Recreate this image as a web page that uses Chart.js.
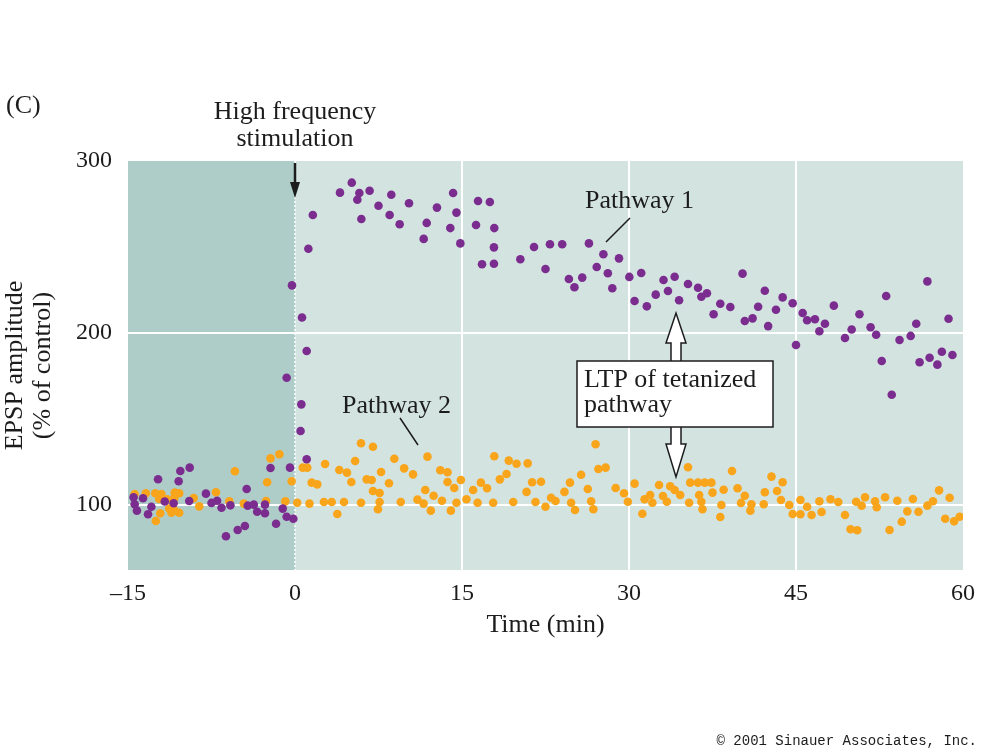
<!DOCTYPE html>
<html>
<head>
<meta charset="utf-8">
<script src="https://cdn.jsdelivr.net/npm/chart.js@4/dist/chart.umd.min.js"></script>
<style>
  html, body { margin: 0; padding: 0; background: #fff; }
  #wrap { width: 981px; height: 752px; }
</style>
</head>
<body>
<div id="wrap"><canvas id="chart" width="981" height="752"></canvas></div>
<script>
// pathway 1 (tetanized), time in min / EPSP amplitude in % of control
const p1Time = [-14.5, -14.4, -14.2, -13.65, -13.2, -12.9, -12.3, -11.7, -10.9, -10.45, -10.3, -9.5, -9.46, -8.0, -7.5, -7.0, -6.6, -6.2, -5.8, -5.15,
  -4.5, -4.34, -4.25, -3.7, -3.4, -2.7, -2.7, -2.2, -1.7, -1.1, -0.75, -0.75, -0.45, -0.27, -0.15, 0.5, 0.57, 0.63, 1.05, 1.05,
  1.2, 1.6, 4.04, 5.1, 5.6, 5.78, 5.96, 6.7, 7.5, 8.5, 8.65, 9.4, 10.24, 11.56, 11.83, 12.75, 13.95, 14.2, 14.5, 14.85,
  16.26, 16.44, 16.8, 17.5, 17.87, 17.87, 17.9, 20.24, 21.47, 22.5, 22.9, 24.0, 24.6, 25.1, 25.8, 26.4, 27.1, 27.7, 28.1, 28.5,
  29.1, 30.03, 30.5, 31.1, 31.6, 32.4, 33.1, 33.5, 34.1, 34.5, 35.3, 36.2, 36.5, 37.0, 37.6, 38.2, 39.1, 40.2, 40.4, 41.1,
  41.6, 42.2, 42.5, 43.2, 43.8, 44.7, 45.0, 45.6, 46.0, 46.7, 47.1, 47.6, 48.4, 49.4, 50.0, 50.7, 51.7, 52.2, 52.7, 53.1,
  53.6, 54.3, 55.3, 55.8, 56.1, 56.8, 57.0, 57.7, 58.1, 58.7, 59.05];
const p1Amp = [104.5, 100.4, 96.7, 103.9, 94.6, 99, 115, 102, 101, 113.8, 119.8, 102.3, 121.7, 106.6, 101.2, 102.5, 98.4, 81.8, 99.8, 85.5,
  87.8, 109.3, 99.6, 100.2, 96.1, 100.2, 95.2, 121.5, 89.1, 97.9, 93.2, 174, 121.7, 227.7, 92, 143, 158.5, 209, 189.5, 126.6,
  249, 268.6, 281.6, 287.4, 277.5, 281.4, 266.3, 282.7, 274, 268.6, 280.4, 263.2, 275.4, 254.7, 264, 272.9, 261, 281.4, 270, 252.1,
  262.8, 276.7, 240, 276.2, 249.8, 240.3, 261, 242.9, 250, 237.2, 251.6, 251.6, 231.4, 226.6, 232.2, 252.1, 238.4, 245.8, 234.7, 226,
  243.4, 232.6, 218.6, 234.9, 215.5, 222.3, 230.8, 224.4, 232.7, 219, 228.5, 226.3, 221.1, 223.1, 210.9, 217, 215.1, 234.5, 207, 208.5,
  215.3, 224.6, 204, 213.5, 220.7, 217.3, 193, 211.6, 207.4, 208, 201, 205.4, 215.9, 197.1, 202, 210.9, 203.3, 199, 183.7, 221.5,
  164.1, 195.9, 198.3, 205.4, 183, 230, 185.6, 181.6, 189.1, 208.3, 187.2];

// pathway 2 (control pathway)
const p2Time = [-14.4, -13.4, -12.55, -12.5, -12.2, -12.1, -12.0, -11.5, -11.3, -11.1, -10.85, -10.85, -10.8, -10.4, -10.4, -9.1, -8.6, -7.1, -5.9, -5.4,
  -4.6, -2.6, -2.5, -2.2, -1.4, -0.87, -0.3, 0.2, 0.7, 1.1, 1.3, 1.5, 2.0, 2.6, 2.7, 3.3, 3.8, 3.98, 4.4, 4.67,
  5.06, 5.4, 5.93, 5.93, 6.44, 6.89, 7.0, 7.0, 7.45, 7.6, 7.6, 7.73, 8.44, 8.92, 9.5, 9.8, 10.6, 11.0, 11.55, 11.7,
  11.9, 12.2, 12.45, 13.05, 13.2, 13.7, 13.7, 14.0, 14.3, 14.5, 14.9, 15.4, 16.0, 16.4, 16.7, 17.25, 17.8, 17.9, 18.4, 19.0,
  19.2, 19.6, 19.9, 20.8, 20.9, 21.3, 21.6, 22.1, 22.5, 23.0, 23.4, 24.2, 24.7, 24.8, 25.15, 25.7, 26.3, 26.6, 26.8, 27.0,
  27.25, 27.9, 28.8, 29.55, 29.9, 30.5, 31.2, 31.4, 31.9, 32.1, 32.7, 33.05, 33.4, 33.7, 34.1, 34.6, 35.3, 35.4, 35.5, 36.2,
  36.3, 36.5, 36.6, 36.8, 37.4, 37.5, 38.2, 38.3, 38.5, 39.25, 39.75, 40.06, 40.4, 40.9, 41.0, 42.1, 42.2, 42.8, 43.3, 43.65,
  43.8, 44.4, 44.7, 45.4, 45.4, 46.0, 46.4, 47.1, 47.3, 48.1, 48.8, 49.4, 49.9, 50.4, 50.5, 50.9, 51.2, 52.1, 52.25, 53.0,
  53.4, 54.1, 54.5, 55.0, 55.5, 56.0, 56.8, 57.3, 57.85, 58.4, 58.8, 59.2, 59.7];
const p2Amp = [106.4, 106.8, 106.8, 90.7, 103.5, 95.2, 106.4, 103.3, 98, 95.5, 103.9, 97, 107.2, 106.8, 95.5, 104, 99.2, 107.4, 102.1, 119.6,
  100.8, 102.3, 113.2, 127.1, 129.5, 102.1, 113.8, 101.3, 121.7, 121.7, 100.8, 113, 112, 101.7, 123.8, 101.7, 94.8, 120.3, 101.7, 118.8,
  113.4, 125.6, 135.9, 101.3, 114.9, 114.5, 133.9, 108.1, 97.5, 107, 101.7, 119.2, 112.6, 126.9, 101.7, 121.3, 117.8, 103.1, 100.8, 108.7,
  128.1, 96.7, 105.4, 120.2, 102.5, 119, 113.4, 96.7, 109.9, 101.3, 114.5, 103.3, 108.7, 101.3, 113, 109.7, 101.3, 128.3, 114.9, 118,
  125.8, 101.7, 124, 107.6, 124.2, 113.2, 101.7, 113.5, 99, 104.2, 102.3, 107.6, 113, 101.3, 97.1, 117.6, 109.3, 102.2, 97.5, 135.3,
  120.9, 121.7, 109.9, 106.8, 101.9, 112.4, 94.9, 103.3, 105.8, 101.3, 111.6, 105.2, 101.9, 110.9, 108.7, 105.8, 121.9, 101.3, 113, 113,
  105.8, 101.9, 97.5, 113, 113, 107.2, 93, 100, 108.9, 119.8, 109.7, 101.2, 105.4, 96.7, 100.4, 100.4, 107.4, 116.5, 108.1, 102.9,
  113.2, 100, 94.8, 94.6, 102.9, 99, 94.2, 102.2, 95.9, 103.3, 101.7, 94.2, 85.9, 101.9, 85.3, 99.6, 104.5, 102.2, 98.7, 104.5,
  85.5, 102.5, 90.3, 96.3, 103.5, 96.1, 99.6, 102.2, 108.5, 92, 104.2, 90.5, 93.2];

const xTicks = [-15, 0, 15, 30, 45, 60];
const xTickLabels = ['\u201315', '0', '15', '30', '45', '60'];
const yTicks = [100, 200, 300];
const xGridAt = [15, 30, 45];
const yGridAt = [100, 200];
const stimTime = 0;

const purple = '#7b2c8f';
const orange = '#f9a51c';
const darkBg = '#afcdc8';
const lightBg = '#d2e3e0';
const ink = '#1c1c1c';
const serif = '"Liberation Serif", "Times New Roman", serif';

function toPoints(xs, ys) {
  return xs.map((t, i) => ({ x: t, y: ys[i] }));
}

function hollowArrow(ctx, x, yBase, yTip, headLen) {
  const dir = Math.sign(yTip - yBase);
  const yHead = yTip - dir * headLen;
  ctx.beginPath();
  ctx.moveTo(x - 5, yBase);
  ctx.lineTo(x - 5, yHead);
  ctx.lineTo(x - 10, yHead);
  ctx.lineTo(x, yTip);
  ctx.lineTo(x + 10, yHead);
  ctx.lineTo(x + 5, yHead);
  ctx.lineTo(x + 5, yBase);
  ctx.fillStyle = '#fff';
  ctx.fill();
  ctx.stroke();
}

const figure = {
  id: 'figure',
  beforeDraw(chart) {
    const { ctx, chartArea: a, scales: { x } } = chart;
    const x0 = x.getPixelForValue(stimTime);
    ctx.save();
    ctx.fillStyle = darkBg;
    ctx.fillRect(a.left, a.top, x0 - a.left, a.bottom - a.top);
    ctx.fillStyle = lightBg;
    ctx.fillRect(x0, a.top, a.right - x0, a.bottom - a.top);
    ctx.restore();
  },
  beforeDatasetsDraw(chart) {
    const { ctx, chartArea: a, scales: { x } } = chart;
    const x0 = x.getPixelForValue(stimTime);
    ctx.save();
    ctx.strokeStyle = '#fff';
    ctx.lineWidth = 1.5;
    ctx.setLineDash([2, 2]);
    ctx.beginPath();
    ctx.moveTo(x0, a.top);
    ctx.lineTo(x0, a.bottom);
    ctx.stroke();
    ctx.restore();
  },
  afterDatasetsDraw(chart) {
    const { ctx, scales: { x } } = chart;
    const x0 = x.getPixelForValue(stimTime);
    ctx.save();
    ctx.fillStyle = ink;
    ctx.strokeStyle = ink;
    ctx.textBaseline = 'middle';
    ctx.font = '26px ' + serif;

    ctx.textAlign = 'left';
    ctx.fillText('(C)', 6, 106);

    ctx.textAlign = 'center';
    ctx.fillText('High frequency', x0, 112);
    ctx.fillText('stimulation', x0, 139);

    // stimulation arrow
    ctx.lineWidth = 2.5;
    ctx.beginPath();
    ctx.moveTo(x0, 163);
    ctx.lineTo(x0, 186);
    ctx.stroke();
    ctx.beginPath();
    ctx.moveTo(x0 - 5, 182);
    ctx.lineTo(x0 + 5, 182);
    ctx.lineTo(x0, 198);
    ctx.closePath();
    ctx.fill();

    // pathway labels
    ctx.textAlign = 'left';
    ctx.fillText('Pathway 1', 585, 201);
    ctx.fillText('Pathway 2', 342, 406);
    ctx.lineWidth = 1.5;
    ctx.beginPath();
    ctx.moveTo(630, 218);
    ctx.lineTo(606, 242);
    ctx.moveTo(400, 418);
    ctx.lineTo(418, 445);
    ctx.stroke();

    // LTP callout
    ctx.lineWidth = 1.5;
    hollowArrow(ctx, 676, 362, 313, 30);
    hollowArrow(ctx, 676, 426, 477, 33);
    ctx.fillStyle = '#fff';
    ctx.fillRect(577, 361, 196, 66);
    ctx.strokeRect(577, 361, 196, 66);
    ctx.fillStyle = ink;
    ctx.fillText('LTP of tetanized', 584, 380);
    ctx.fillText('pathway', 584, 405);

    ctx.font = '14px "Liberation Mono", monospace';
    ctx.textAlign = 'right';
    ctx.fillText('\u00a9 2001 Sinauer Associates, Inc.', 977, 741);
    ctx.restore();
  }
};

const ctx = document.getElementById('chart');
new Chart(ctx, {
  type: 'scatter',
  data: {
    datasets: [
      { label: 'Pathway 1', data: toPoints(p1Time, p1Amp), backgroundColor: purple, borderWidth: 0, pointRadius: 4.3 },
      { label: 'Pathway 2', data: toPoints(p2Time, p2Amp), backgroundColor: orange, borderWidth: 0, pointRadius: 4.3 }
    ]
  },
  options: {
    responsive: false,
    animation: false,
    layout: { padding: { top: 161, right: 18, left: 0, bottom: 0 } },
    plugins: { legend: { display: false }, tooltip: { enabled: false } },
    scales: {
      x: {
        type: 'linear',
        min: -15,
        max: 60,
        border: { display: false },
        grid: {
          drawTicks: false,
          lineWidth: 2,
          color: c => xGridAt.includes(c.tick.value) ? '#fff' : 'rgba(0,0,0,0)'
        },
        afterBuildTicks: s => { s.ticks = xTicks.map(v => ({ value: v })); },
        afterFit: s => { s.height = 182; s.paddingLeft = 0; s.paddingRight = 0; },
        ticks: {
          padding: 9,
          color: ink,
          font: { family: serif, size: 24 },
          callback: v => xTickLabels[xTicks.indexOf(v)]
        },
        title: {
          display: true,
          text: 'Time (min)',
          color: ink,
          font: { family: serif, size: 26, lineHeight: 1.15 },
          padding: { top: 0, bottom: 112 }
        }
      },
      y: {
        min: 62.2,
        max: 300,
        border: { display: false },
        grid: {
          drawTicks: false,
          lineWidth: 2,
          color: c => yGridAt.includes(c.tick.value) ? '#fff' : 'rgba(0,0,0,0)'
        },
        afterBuildTicks: s => { s.ticks = yTicks.map(v => ({ value: v })); },
        afterFit: s => { s.width = 128; },
        ticks: {
          padding: 16,
          color: ink,
          font: { family: serif, size: 24 }
        },
        title: {
          display: true,
          text: ['EPSP amplitude', '(% of control)'],
          color: ink,
          font: { family: serif, size: 26, lineHeight: 1.05 },
          padding: { top: 2, bottom: 0 }
        }
      }
    }
  },
  plugins: [figure]
});
</script>
</body>
</html>
